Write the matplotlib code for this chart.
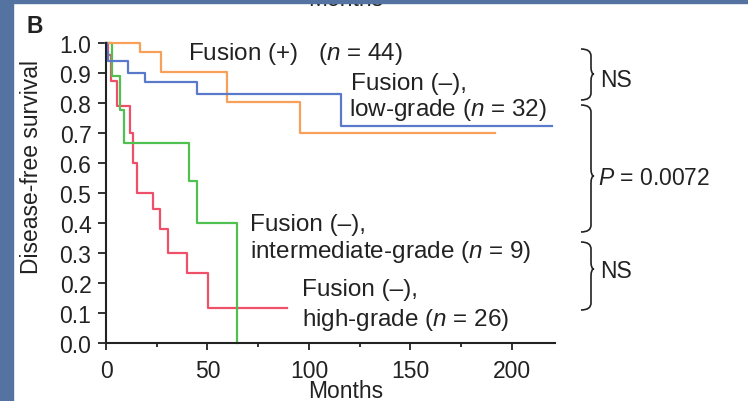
import numpy as np
import matplotlib
matplotlib.use('Agg')
import matplotlib.pyplot as plt
from matplotlib.patches import Rectangle, PathPatch
from matplotlib.path import Path

plt.rcParams['font.family'] = ['Liberation Sans', 'DejaVu Sans']
plt.rcParams['mathtext.fontset'] = 'custom'
plt.rcParams['mathtext.rm'] = 'Liberation Sans'
plt.rcParams['mathtext.it'] = 'Liberation Sans:italic'

# Kaplan-Meier curves (months, disease-free survival)
fusion_pos_t = [0, 16.7, 27.0, 59.5, 95.6, 191.6]
fusion_pos_s = [1.0, 0.97, 0.905, 0.805, 0.70, 0.70]

low_t = [0, 0.5, 1.2, 11.0, 19.2, 45.0, 116.0, 219.6]
low_s = [1.0, 0.97, 0.94, 0.90, 0.87, 0.83, 0.725, 0.725]

inter_t = [0, 2.8, 6.9, 8.9, 40.9, 44.7, 64.4]
inter_s = [1.0, 0.889, 0.778, 0.667, 0.54, 0.40, 0.0]

high_t = [0, 1.0, 2.5, 5.3, 11.6, 13.4, 15.1, 23.3, 26.6, 30.4, 40.0, 50.1, 89.0]
high_s = [1.0, 0.96, 0.874, 0.79, 0.70, 0.60, 0.50, 0.447, 0.38, 0.30, 0.233, 0.117, 0.117]

xticks = [0, 50, 100, 150, 200]
xminor = [25, 75, 125, 175]
yticks = np.round(np.arange(0, 1.01, 0.1), 1)

W, H = 748, 402
FS = 16.5      # axes text
FS_LAB = 17.5  # curve labels
TXT = '#222222'


def px(x, y):
    # pixel position (from top-left) -> figure fraction
    return x / W, 1 - y / H


fig = plt.figure(figsize=(W / 100, H / 100), dpi=100)
fig.patch.set_facecolor('white')

# blue slide border
border = '#5473a0'
fig.add_artist(Rectangle((0, 0), 13 / W, 1, transform=fig.transFigure,
                         color=border, zorder=10))
fig.add_artist(Rectangle((0, 1 - 3.5 / H), 1, 3.5 / H, transform=fig.transFigure,
                         color=border, zorder=10))
# x label of the panel above, cut off by the slide edge
fig.text(*px(346, 6), 'Months', ha='center', va='baseline', fontsize=FS,
         color=TXT, zorder=1)

ax = fig.add_axes([106 / W, 58 / H, 448.6 / W, 300 / H])
ax.set_xlim(0, 221)
ax.set_ylim(0, 1.0)

ax.step(high_t, high_s, where='post', color='#ee5069', lw=1.6, clip_on=False)
ax.step(inter_t, inter_s, where='post', color='#50c050', lw=1.6, clip_on=False)
ax.step(fusion_pos_t, fusion_pos_s, where='post', color='#f7a05a', lw=1.6, clip_on=False)
ax.step(low_t, low_s, where='post', color='#5a79cb', lw=1.6, clip_on=False)

for s in ['top', 'right']:
    ax.spines[s].set_visible(False)
for s in ['left', 'bottom']:
    ax.spines[s].set_linewidth(1.5)
    ax.spines[s].set_color(TXT)

ax.set_xticks(xticks)
ax.set_xticks(xminor, minor=True)
ax.set_yticks(yticks)
ax.set_yticklabels(['%.1f' % v for v in yticks])
ax.tick_params(which='both', labelsize=FS, width=1.3, color=TXT, labelcolor=TXT)
ax.tick_params(axis='x', which='major', length=5, pad=6.5)
ax.tick_params(axis='x', which='minor', length=3)
ax.tick_params(axis='y', length=5.5, pad=5)

fig.text(*px(346, 398), 'Months', ha='center', va='baseline', fontsize=FS, color=TXT)
fig.text(*px(38.5, 167), 'Disease-free survival', rotation=90, rotation_mode='anchor',
         ha='center', va='baseline', fontsize=FS, color=TXT)
fig.text(*px(27, 33), 'B', fontweight='bold', fontsize=FS, va='baseline', color=TXT)

# curve labels
labels = [
    ((188, 60), 'Fusion (+)   ($n$ = 44)'),
    ((351, 90), 'Fusion (\u2013),'),
    ((349, 116), 'low-grade ($n$ = 32)'),
    ((250, 231), 'Fusion (\u2013),'),
    ((250, 258), 'intermediate-grade ($n$ = 9)'),
    ((302, 296), 'Fusion (\u2013),'),
    ((302, 326), 'high-grade ($n$ = 26)'),
]
for (x, y), s in labels:
    fig.text(*px(x, y), s, ha='left', va='baseline', fontsize=FS_LAB, color=TXT)

stats = [
    ((600, 87), 'NS'),
    ((598, 185), '$P$ = 0.0072'),
    ((600, 278), 'NS'),
]
for (x, y), s in stats:
    fig.text(*px(x, y), s, ha='left', va='baseline', fontsize=FS, color=TXT)


def brace(ytop, ybot, ymid, x0=581, x1=591, r=7, d=3):
    pts = [(x0, ytop), (x1, ytop), (x1, ytop + r),
           (x1, ymid - r), (x1, ymid), (x1 + d, ymid),
           (x1, ymid), (x1, ymid + r),
           (x1, ybot - r), (x1, ybot), (x0, ybot)]
    codes = [Path.MOVETO, Path.CURVE3, Path.CURVE3,
             Path.LINETO, Path.CURVE3, Path.CURVE3,
             Path.CURVE3, Path.CURVE3,
             Path.LINETO, Path.CURVE3, Path.CURVE3]
    verts = [px(x, y) for x, y in pts]
    fig.add_artist(PathPatch(Path(verts, codes), transform=fig.transFigure,
                             fill=False, lw=1.2, edgecolor=TXT))


brace(50, 101, 75)
brace(106, 233, 177)
brace(243, 311, 270)

fig.savefig('out.png', dpi=100)
